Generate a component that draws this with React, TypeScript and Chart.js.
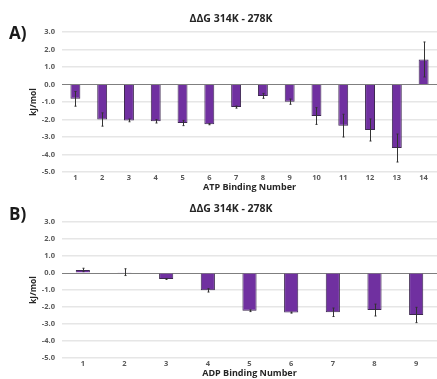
import React, { useEffect, useRef } from "react";
import { Chart, registerables } from "chart.js";

Chart.register(...registerables);

const atpLabels = ["1", "2", "3", "4", "5", "6", "7", "8", "9", "10", "11", "12", "13", "14"];
const atpValues = [-0.82, -2.0, -2.05, -2.1, -2.2, -2.27, -1.29, -0.65, -0.98, -1.8, -2.35, -2.6, -3.63, 1.43];
const atpErrors = [0.42, 0.38, 0.08, 0.1, 0.15, 0.03, 0.06, 0.14, 0.15, 0.48, 0.65, 0.63, 0.8, 1.0];

const adpLabels = ["1", "2", "3", "4", "5", "6", "7", "8", "9"];
const adpValues = [0.18, 0.05, -0.35, -1.02, -2.22, -2.33, -2.31, -2.18, -2.47];
const adpErrors = [0.1, 0.2, 0.03, 0.1, 0.05, 0.03, 0.25, 0.35, 0.45];

const yTicks = [3, 2, 1, 0, -1, -2, -3, -4, -5];

const FONT = "'Open Sans', 'DejaVu Sans', sans-serif";

type Props = {
  labels: string[];
  values: number[];
  errors: number[];
  title: string;
  xTitle: string;
  barPct: number;
  height: number;
};

function BarChart({ labels, values, errors, title, xTitle, barPct, height }: Props) {
  const ref = useRef<HTMLCanvasElement | null>(null);
  useEffect(() => {
    if (!ref.current) return;
    const errorPlugin = {
      id: "errBars",
      afterDatasetsDraw(chart: any) {
        const c = chart.ctx;
        const meta = chart.getDatasetMeta(0);
        const ys = chart.scales.y;
        c.save();
        c.strokeStyle = "#333333";
        c.lineWidth = 1;
        meta.data.forEach((bar: any, i: number) => {
          const v = values[i];
          const e = errors[i];
          const x = Math.round(bar.x) + 0.5;
          const y1 = ys.getPixelForValue(v + e);
          const y2 = ys.getPixelForValue(v - e);
          c.beginPath();
          c.moveTo(x, y1);
          c.lineTo(x, y2);
          c.moveTo(x - 1, y1);
          c.lineTo(x + 1, y1);
          c.moveTo(x - 1, y2);
          c.lineTo(x + 1, y2);
          c.stroke();
        });
        c.restore();
      },
    };
    const titlePlugin = {
      id: "topTitle",
      afterDraw(chart: any) {
        const c = chart.ctx;
        c.save();
        c.font = `bold 10.5px ${FONT}`;
        c.fillStyle = "#262626";
        c.textAlign = "center";
        c.textBaseline = "middle";
        c.fillText(title, 231, 19);
        c.restore();
      },
    };
    const chart = new Chart(ref.current, {
      type: "bar",
      data: {
        labels,
        datasets: [
          {
            data: values,
            backgroundColor: "#7030A0",
            borderColor: "#3d2850",
            borderWidth: 1,
            barPercentage: barPct,
            categoryPercentage: 1,
          },
        ],
      },
      options: {
        animation: false,
        responsive: false,
        maintainAspectRatio: false,
        layout: { padding: { top: 32, left: 28, right: 0, bottom: 0 } },
        plugins: {
          legend: { display: false },
          tooltip: { enabled: false },
          title: { display: false },
        },
        scales: {
          x: {
            grid: { display: false, drawTicks: false },
            border: { display: false },
            ticks: {
              padding: 1,
              color: "#595959",
              font: { family: FONT, size: 7.5, weight: "bold" },
            },
            title: {
              display: true,
              text: xTitle,
              color: "#262626",
              font: { family: FONT, size: 9, weight: "bold" },
              padding: { top: 0, bottom: 1 },
            },
            afterFit: (s: any) => {
              s.height = 22;
            },
          },
          y: {
            min: -5,
            max: 3,
            afterBuildTicks: (s: any) => {
              s.ticks = yTicks.map((v) => ({ value: v }));
            },
            grid: {
              drawTicks: false,
              color: (ctx: any) => (ctx.tick && ctx.tick.value === 0 ? "#7f7f7f" : "#e6e6e6"),
              lineWidth: (ctx: any) => (ctx.tick && ctx.tick.value === 0 ? 1 : 1.5),
            },
            border: { display: false },
            ticks: {
              padding: 7,
              color: "#595959",
              font: { family: FONT, size: 7.5, weight: "bold" },
              callback: (v: any) => Number(v).toFixed(1),
            },
            title: {
              display: true,
              text: "kJ/mol",
              color: "#262626",
              font: { family: FONT, size: 8.5, weight: "bold" },
              padding: 0,
            },
            afterFit: (s: any) => {
              s.width = 34;
            },
          },
        },
      },
      plugins: [errorPlugin, titlePlugin],
    });
    return () => chart.destroy();
  }, []);
  return <canvas ref={ref} width={437} height={height} style={{ display: "block", width: 437, height }} />;
}

export default function App() {
  const label: React.CSSProperties = {
    position: "absolute",
    left: 9,
    fontFamily: FONT,
    fontWeight: 700,
    fontSize: 17,
    lineHeight: "17px",
    color: "#1a1a1a",
  };
  return (
    <div style={{ position: "absolute", left: 0, top: 0, width: 437, height: 379, overflow: "hidden", background: "#fff" }}>
      <div style={{ position: "absolute", left: 0, top: 0 }}>
        <BarChart labels={atpLabels} values={atpValues} errors={atpErrors} title="ΔΔG 314K - 278K" xTitle="ATP Binding Number" barPct={0.37} height={194} />
      </div>
      <div style={{ position: "absolute", left: 0, top: 190 }}>
        <BarChart labels={adpLabels} values={adpValues} errors={adpErrors} title="ΔΔG 314K - 278K" xTitle="ADP Binding Number" barPct={0.34} height={190} />
      </div>
      <div style={{ ...label, top: 24 }}>A)</div>
      <div style={{ ...label, top: 205 }}>B)</div>
    </div>
  );
}
